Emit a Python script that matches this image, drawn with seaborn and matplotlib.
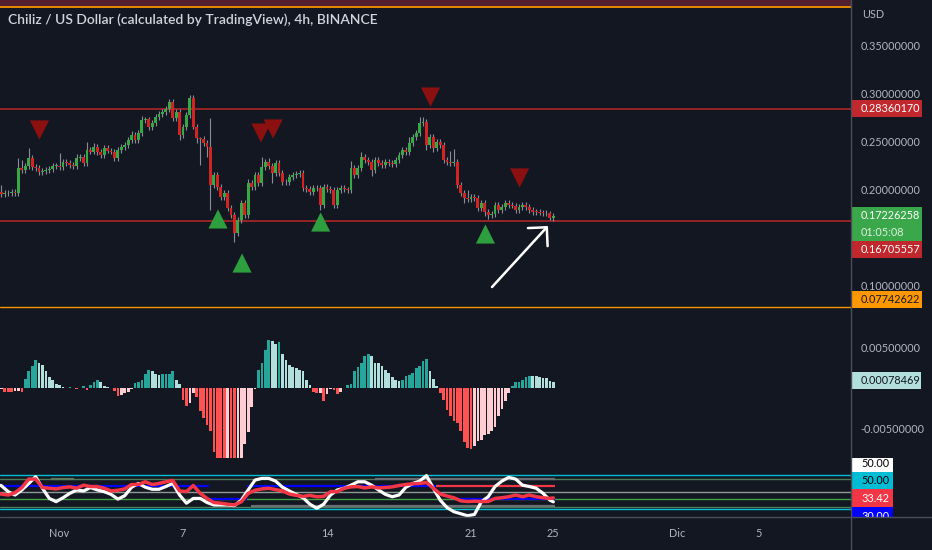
import numpy as np
import pandas as pd
import matplotlib
matplotlib.use("Agg")
import matplotlib.pyplot as plt
import seaborn as sns
from matplotlib.lines import Line2D
from matplotlib.patches import Rectangle
from matplotlib.transforms import Bbox, TransformedBbox, blended_transform_factory

BG = "#131722"
TXT = "#b2b5be"
SEP = "#4a4e59"
W, H = 932, 550

# ---- data (x = day of November, 4h candles) ----
last_candle = 25.0
first_open = 0.2000
closes = [
    0.1972, 0.1965, 0.1950, 0.1960, 0.1955, 0.1968, 0.1960, 0.2215, 0.2200, 0.2240,
    0.2319, 0.2232, 0.2215, 0.2175, 0.2190, 0.2200, 0.2205, 0.2240, 0.2242, 0.2225,
    0.2285, 0.2268, 0.2250, 0.2240, 0.2319, 0.2330, 0.2268, 0.2406, 0.2390, 0.2441,
    0.2389, 0.2354, 0.2424, 0.2400, 0.2390, 0.2326, 0.2406, 0.2434, 0.2458, 0.2510,
    0.2563, 0.2510, 0.2580, 0.2719, 0.2725, 0.2649, 0.2690, 0.2753, 0.2781, 0.2800,
    0.2830, 0.2909, 0.2736, 0.2806, 0.2563, 0.2649, 0.2771, 0.2944, 0.2650, 0.2528,
    0.2520, 0.2476, 0.2441, 0.2042, 0.2146, 0.2024, 0.1920, 0.1955, 0.1799, 0.1729,
    0.1539, 0.1677, 0.1851, 0.1729, 0.2059, 0.2024, 0.2146, 0.2059, 0.2233, 0.2285,
    0.2240, 0.2163, 0.2268, 0.2163, 0.2076, 0.2070, 0.2128, 0.2146, 0.2155, 0.2163,
    0.2007, 0.2000, 0.1972, 0.2007, 0.2015, 0.1833, 0.2024, 0.2000, 0.1990, 0.1837,
    0.1990, 0.2007, 0.1995, 0.1990, 0.2215, 0.2146, 0.2215, 0.2337, 0.2302, 0.2285,
    0.2198, 0.2302, 0.2268, 0.2250, 0.2285, 0.2270, 0.2260, 0.2302, 0.2354, 0.2406,
    0.2389, 0.2476, 0.2545, 0.2580, 0.2684, 0.2695, 0.2458, 0.2545, 0.2424, 0.2493,
    0.2458, 0.2302, 0.2285, 0.2268, 0.2285, 0.2042, 0.1955, 0.1903, 0.1898, 0.1920,
    0.1910, 0.1799, 0.1851, 0.1764, 0.1729, 0.1740, 0.1833, 0.1781, 0.1816, 0.1851,
    0.1833, 0.1828, 0.1781, 0.1816, 0.1833, 0.1816, 0.1781, 0.1764, 0.1760, 0.1755,
    0.1753, 0.1745, 0.1694, 0.1723,
]
# long wicks (candle index -> price); the rest get a short default wick
wick_highs = {2: 0.2042, 7: 0.2319, 8: 0.2300, 10: 0.2427, 19: 0.2375, 24: 0.2360,
              27: 0.2493, 29: 0.2480, 40: 0.2600, 43: 0.2760, 51: 0.2934, 57: 0.2975,
              60: 0.2540, 63: 0.2740, 74: 0.2100, 78: 0.2330, 80: 0.2320, 104: 0.2290,
              107: 0.2390, 121: 0.2540, 124: 0.2753, 125: 0.2753, 133: 0.2400,
              134: 0.2420, 138: 0.1990}
wick_lows = {35: 0.2290, 54: 0.2510, 59: 0.2480, 60: 0.2250, 62: 0.2337, 63: 0.1781,
             70: 0.1451, 81: 0.2060, 95: 0.1780, 96: 0.1800, 99: 0.1800, 110: 0.2140,
             126: 0.2406, 128: 0.2390, 137: 0.1850, 143: 0.1720, 144: 0.1690, 162: 0.1680}

levels_red = [0.28360170, 0.16705557]
level_orange = 0.07742622
level_top = 0.3896

sell_t = [0.02, 10.79, 11.38, 19.03, 23.36]
sell_p = [0.2615, 0.2583, 0.2625, 0.2958, 0.2115]
buy_t = [8.70, 9.87, 13.69, 21.70]
buy_p = [0.1688, 0.1229, 0.1656, 0.1531]

macd_hist = [
    -0.00012, -0.00012, -0.0001, -0.0004, -0.0004, -0.00042, -0.00035, -0.0003, -0.0004, 0.0012,
    0.0021, 0.0028, 0.0035, 0.0032, 0.0029, 0.0021, 0.0014, 0.0010, 0.0006, 0.0004,
    0.0002, 0.0001, 0.0002, 0.00012, -0.00012, 0.00012, 0.00025, -0.00015, 0.0004, 0.00075,
    0.0011, 0.0008, 0.00025, 0.0002, 0.0001, -0.00035, -0.0009, -0.0008, -0.0006, -0.0004,
    -0.0001, 0.0007, 0.00075, 0.0010, 0.0018, 0.0023, 0.0021, 0.0018, 0.0017, 0.00175,
    0.0018, 0.00185, 0.0021, 0.0010, 0.0006, -0.0014, -0.0021, -0.0018, -0.0006, -0.0010,
    -0.0028, -0.0037, -0.0045, -0.0052, -0.0078, -0.0090, -0.0098, -0.0104, -0.0100, -0.0103,
    -0.0106, -0.0101, -0.0090, -0.0069, -0.0054, -0.0023, -0.0001, 0.0023, 0.0031, 0.0047,
    0.0060, 0.0059, 0.0055, 0.0057, 0.0042, 0.0035, 0.0029, 0.0027, 0.0025, 0.0023,
    0.0021, 0.0010, 0.0004, -0.0004, -0.0006, -0.0005, -0.0015, -0.0007, -0.0001, -0.0002,
    -0.0007, -0.0004, 0.0001, 0.0004, 0.0005, 0.0021, 0.0026, 0.0031, 0.0040, 0.0042,
    0.0040, 0.0032, 0.00315, 0.0028, 0.0023, 0.0019, 0.0014, 0.0010, 0.00098, 0.00102,
    0.0016, 0.0017, 0.0019, 0.0025, 0.0028, 0.0034, 0.0036, 0.0021, 0.0012, 0.0003,
    -0.0006, -0.0014, -0.0026, -0.0034, -0.0040, -0.0043, -0.0053, -0.0066, -0.0073, -0.0075,
    -0.0071, -0.0065, -0.0064, -0.0058, -0.0056, -0.0053, -0.0047, -0.0034, -0.0025, -0.0016,
    -0.0006, 0.0003, 0.00075, 0.0008, 0.0010, 0.0014, 0.0016, 0.00158, 0.0015, 0.0014,
    0.00135, 0.0013, 0.00095, 0.00078469,
]

# oscillator pane, sampled every second candle plus the last one
osc_white = [73.5, 69.5, 52, 42, 57, 76, 96, 62, 32, 22.5,
             34, 47, 57, 54, 64, 57, 52, 44, 30, 40,
             65, 76, 65, 59, 59, 67, 76, 42, 18, 32,
             32, 20, 12.7, 12.7, 12.7, 11, 27, 57, 86, 91,
             91, 83, 65, 54, 44, 34, 15, 3, 15, 42,
             57, 62, 71, 81, 81, 71, 57, 44, 37, 42,
             65, 76, 83, 99, 62, 27, 5, -7, -13, -19,
             -15, 22, 37, 67, 83, 94, 89, 71, 67, 62,
             47, 27, 22]
osc_red = [47, 45, 42, 49, 64, 89, 89, 64, 62, 60,
           64, 66, 62, 71, 67, 67, 62, 54, 56, 60,
           73, 73, 81, 73, 76, 81, 85, 54, 52, 70,
           47, 32, 20, 18, 15, 13, 22, 47, 56, 60,
           62, 58, 54, 45, 41, 38, 41, 37, 38, 52,
           52, 62, 66, 67, 63, 66, 63, 64, 66, 70,
           73, 75, 76, 79, 62, 45, 39, 34, 25, 23,
           24, 23, 23, 32, 34, 37, 42, 37, 42, 37,
           34, 32, 33.42]
osc_levels = [100, 90, 50, 30, 8, 0]
osc_level_colors = ["#00bcd4", "#4f7a58", "#8f9a93", "#43a047", "#4f7a58", "#00bcd4"]
seg_start = [-1.9, 8.27, 10.13, 20.38, 19.3, 0.58, 16.31, 10.3]
seg_end = [8.27, 10.13, 19.3, 25.06, 25.06, 1.72, 25.06, 25.06]
seg_value = [70, 30, 70, 30, 70, 90, 90, 11]
seg_color = ["#0000ff", "#0000ff", "#0000ff", "#0000ff", "#f23645", "#5d7a5d", "#6a6d73", "#6a6d73"]

xtick_days = [1, 7, 14, 21, 25, 31, 35]
xtick_labels = ["Nov", "7", "14", "21", "25", "Dic", "5"]
price_ticks = [0.10, 0.20, 0.25, 0.30, 0.35]
macd_ticks = [-0.005, 0.005]

# ---- build ----
sns.set_theme(style="dark", rc={"axes.facecolor": BG, "figure.facecolor": BG})
plt.rcParams["font.family"] = ["Lato", "DejaVu Sans"]

n = len(closes)
times = last_candle - (n - 1 - np.arange(n)) / 6.0
opens = [first_open] + closes[:-1]
df = pd.DataFrame({"t": times, "open": opens, "close": closes})
df["high"] = np.maximum(df["open"], df["close"]) + 0.003
df["low"] = np.minimum(df["open"], df["close"]) - 0.003
for k, v in wick_highs.items():
    df.loc[k, "high"] = v
for k, v in wick_lows.items():
    df.loc[k, "low"] = v
df["up"] = df["close"] >= df["open"]

fig = plt.figure(figsize=(W / 100, H / 100), dpi=100, facecolor=BG)


def pane(y0, y1, share=None):
    return fig.add_axes([0, 1 - y1 / H, 851 / W, (y1 - y0) / H], sharex=share)


ax_p = pane(0, 310)
ax_m = pane(310, 458, ax_p)
ax_o = pane(458, 517, ax_p)
for a in (ax_p, ax_m, ax_o):
    a.set_facecolor(BG)
    for s in a.spines.values():
        s.set_visible(False)
    a.grid(False)
ax_p.set_xlim(-1.897, 39.47)

# price pane
ax_p.set_ylim(0.07396, 0.39688)
ax_p.axhspan(level_top, 0.39688, color="#54202f", lw=0, zorder=1)
ax_p.axhline(level_top, color="#e68a00", lw=1.4, zorder=1)
for lv in levels_red:
    ax_p.axhline(lv, color="#a02626", lw=1.3, zorder=1)
ax_p.axhline(level_orange, color="#f59300", lw=1.0, zorder=1)

ax_p.vlines(df["t"], df["low"], df["high"], color="#8a8d96", lw=0.8, zorder=2)
body_lo = np.minimum(df["open"], df["close"])
body_h = np.maximum((df["close"] - df["open"]).abs(), 0.0008)
ax_p.bar(df["t"], body_h, bottom=body_lo, width=0.14,
         color=np.where(df["up"], "#36a846", "#d32424"), lw=0, zorder=3)

sns.scatterplot(x=sell_t, y=sell_p, marker="v", s=190, color="#8c1010",
                edgecolor="none", ax=ax_p, zorder=6, legend=False)
sns.scatterplot(x=buy_t, y=buy_p, marker="^", s=190, color="#2e9f3e",
                edgecolor="none", ax=ax_p, zorder=6, legend=False)
ax_p.annotate("", xy=(24.74, 0.1615), xytext=(22.02, 0.0979),
              arrowprops=dict(arrowstyle="->,head_length=0.8,head_width=0.8",
                              color="white", lw=1.8, shrinkA=0, shrinkB=0), zorder=7)

ax_p.text(8 / 851, 1 - 20 / 310, "Chiliz / US Dollar (calculated by TradingView), 4h, BINANCE",
          transform=ax_p.transAxes, color="#d1d4dc", fontsize=10, fontweight="semibold",
          ha="left", va="center", zorder=8)

ax_p.yaxis.tick_right()
ax_p.set_yticks(price_ticks)
ax_p.set_yticklabels([f"{v:.8f}" for v in price_ticks])
ax_p.tick_params(axis="y", length=0, pad=7, labelsize=7.8, labelcolor=TXT)
ax_p.tick_params(axis="x", bottom=False, labelbottom=False)


def tag(ax, value, lines, fc, tc, dy=0.0, width=71, line_h=17, clip=None, tcs=None):
    # coloured value box on the right scale, dy in pixels (up positive)
    y0 = ax.transData.transform((0, 0))[1]
    ppu = ax.transData.transform((0, 1))[1] - y0
    blend = blended_transform_factory(fig.transFigure, ax.transData)
    h = line_h * len(lines)
    cy = value + dy / ppu
    r = Rectangle((851 / W, cy - h / 2 / ppu), width / W, h / ppu, transform=blend,
                  fc=fc, ec="none", zorder=9, clip_on=False)
    ax.add_artist(r)
    arts = [r]
    for k, line in enumerate(lines):
        ty = cy + (h / 2 - line_h * (k + 0.5)) / ppu
        col = tcs[k] if tcs else tc
        arts.append(ax.text(861 / W, ty, line, transform=blend, color=col, fontsize=7.8,
                            ha="left", va="center", zorder=10, clip_on=False))
    if clip is not None:
        for a in arts:
            a.set_clip_on(True)
            a.set_clip_box(clip)


tag(ax_p, levels_red[0], ["0.28360170"], "#c0282d", "white")
tag(ax_p, closes[-1], ["0.17226258", "01:05:08"], "#3aa84a", "white", dy=-8.4,
    tcs=["white", "#dff0e0"])
tag(ax_p, levels_red[1], ["0.16705557"], "#c0282d", "white", dy=-28.4)
tag(ax_p, level_orange, ["0.07742622"], "#ff9800", BG, dy=7.2)

# MACD histogram pane
hcol = []
for i, h in enumerate(macd_hist):
    prev = macd_hist[i - 1] if i > 0 else h
    if h >= 0:
        hcol.append("#26a69a" if h > prev else "#b2dfdb")
    else:
        hcol.append("#ffcdd2" if h > prev else "#ff5252")
ax_m.bar(times, macd_hist, width=0.13, color=hcol, lw=0, zorder=3)
ax_m.set_ylim(-0.00858, 0.00969)
ax_m.yaxis.tick_right()
ax_m.set_yticks(macd_ticks)
ax_m.set_yticklabels([f"{v:.8f}" for v in macd_ticks])
ax_m.tick_params(axis="y", length=0, pad=7, labelsize=7.8, labelcolor=TXT)
ax_m.tick_params(axis="x", bottom=False, labelbottom=False)
tag(ax_m, macd_hist[-1], ["0.00078469"], "#b2dfdb", BG, dy=1.6, width=70)

# oscillator pane
osc_idx = list(range(0, n, 2)) + [n - 1]
osc_t = times[osc_idx]
for lv, c in zip(osc_levels, osc_level_colors):
    ax_o.axhline(lv, color=c, lw=1.0, zorder=1)
ax_o.hlines(seg_value, seg_start, seg_end, colors=seg_color, lw=1.6, zorder=2)
sns.lineplot(x=osc_t, y=osc_white, color="white", lw=2.3, ax=ax_o, zorder=4)
sns.lineplot(x=osc_t, y=osc_red, color="#f23645", lw=2.5, ax=ax_o, zorder=5)
ax_o.set_ylim(-22.6, 150.9)
ax_o.set_yticks([])
ax_o.set_ylabel("")
ax_o.set_xticks(xtick_days)
ax_o.set_xticklabels(xtick_labels)
ax_o.tick_params(axis="x", length=0, pad=8, labelsize=7.8, labelcolor=TXT)

clip = TransformedBbox(Bbox([[851 / W, 33 / H], [1, 92 / H]]), fig.transFigure)
tag(ax_o, 50, ["50.00"], "white", "black", dy=28.8, width=42, line_h=16, clip=clip)
tag(ax_o, 50, ["50.00"], "#00bcd4", "black", dy=12.3, width=42, line_h=17, clip=clip)
tag(ax_o, 33.42, ["33.42"], "#f23645", "white", dy=-0.1, width=42, line_h=18, clip=clip)
tag(ax_o, 30, ["30.00"], "#0000ff", "white", dy=-16.9, width=42, line_h=18, clip=clip)

# chrome
fig.text(862 / W, 1 - 15 / H, "USD", color=TXT, fontsize=7.8, ha="left", va="center")
fig.add_artist(Line2D([851 / W, 851 / W], [0, 1], transform=fig.transFigure, color=SEP, lw=1))
fig.add_artist(Line2D([0, 1], [33 / H, 33 / H], transform=fig.transFigure, color=SEP, lw=1))

fig.savefig("out.png", dpi=100, facecolor=BG)
